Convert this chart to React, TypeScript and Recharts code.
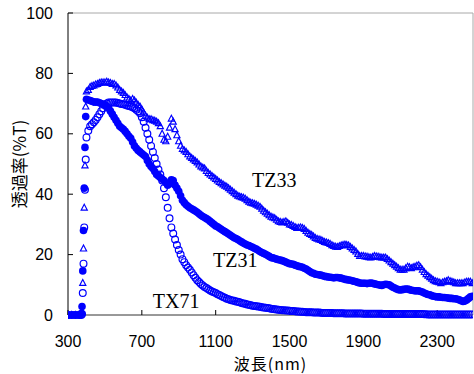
import React from 'react';
import { ScatterChart, Scatter, XAxis, YAxis, ReferenceLine, ReferenceDot } from 'recharts';

// wavelength grid (nm)
const wavelengths = [
  300, 320, 340, 360, 372, 376, 380, 384, 388, 392, 396,
  400, 410, 420, 430, 440, 450, 460, 470, 480, 490,
  500, 510, 520, 530, 540, 550, 560, 570, 580, 590,
  600, 610, 620, 630, 640, 650, 660, 670, 680, 690,
  700, 710, 720, 730, 740, 750, 760, 770, 780, 790,
  800, 810, 820, 830, 840, 850, 860, 870, 880, 890,
  900, 910, 920, 930, 940, 950, 960, 970, 980, 990,
  1000, 1010, 1020, 1030, 1040, 1050, 1060, 1070, 1080, 1090,
  1100, 1110, 1120, 1130, 1140, 1150, 1160, 1170, 1180, 1190,
  1200, 1210, 1220, 1230, 1240, 1250, 1260, 1270, 1280, 1290,
  1300, 1310, 1320, 1330, 1340, 1350, 1360, 1370, 1380, 1390,
  1400, 1410, 1420, 1430, 1440, 1450, 1460, 1470, 1480, 1490,
  1500, 1510, 1520, 1530, 1540, 1550, 1560, 1570, 1580, 1590,
  1600, 1610, 1620, 1630, 1640, 1650, 1660, 1670, 1680, 1690,
  1700, 1710, 1720, 1730, 1740, 1750, 1760, 1770, 1780, 1790,
  1800, 1810, 1820, 1830, 1840, 1850, 1860, 1870, 1880, 1890,
  1900, 1910, 1920, 1930, 1940, 1950, 1960, 1970, 1980, 1990,
  2000, 2010, 2020, 2030, 2040, 2050, 2060, 2070, 2080, 2090,
  2100, 2110, 2120, 2130, 2140, 2150, 2160, 2170, 2180, 2190,
  2200, 2210, 2220, 2230, 2240, 2250, 2260, 2270, 2280, 2290,
  2300, 2310, 2320, 2330, 2340, 2350, 2360, 2370, 2380, 2390,
  2400, 2410, 2420, 2430, 2440, 2450, 2460, 2470, 2480, 2490,
];

// transmittance (%T), TZ33 — open triangles
const tz33 = [
  0, 0, 0, 0, 0.5, 1, 10.6, 22, 35.5, 49.5, 69,
  74, 74.5, 75.5, 75.8, 76, 76.3, 76.5, 76.8, 77, 77,
  77, 77.2, 77, 76.8, 76.5, 76.5, 76, 75.3, 74.5, 74,
  73.5, 72.8, 72, 71.5, 71, 71.5, 71, 70.3, 69.5, 69,
  68, 67, 66, 65.3, 64.8, 64.8, 64.5, 64.3, 64, 63.5,
  62.5, 60, 58, 57.5, 59, 62, 65, 64, 61.5, 59.5,
  57.5, 56, 55, 54.5, 54, 53.2, 52.5, 52, 51.5, 51,
  50.5, 49.8, 49.2, 48.8, 48.5, 47.7, 47, 46.5, 46, 45.5,
  45, 44.5, 44, 43.6, 43.2, 42.8, 42.5, 42, 41.5, 41,
  40.5, 40, 39.5, 39.2, 39, 38.8, 38.5, 38, 37.5, 37.2,
  37, 36.8, 36.5, 36.2, 35.8, 35.2, 34.5, 34, 33.5, 33,
  32.5, 32.3, 32, 31.5, 31, 30.8, 30.6, 30.8, 31, 30.5,
  30, 29.8, 29.5, 29.1, 28.8, 28.9, 29, 28.8, 28.5, 27.8,
  27.2, 26.8, 26.5, 26, 25.5, 25.2, 25, 24.8, 24.5, 24.2,
  24, 23.8, 23.5, 23.1, 22.8, 22.6, 22.5, 22.8, 23, 23.2,
  23.3, 23.2, 23, 22.5, 22, 21.5, 21, 20.2, 19.5, 19.5,
  19.5, 19.4, 19.3, 19.1, 19, 19.2, 19.5, 19.4, 19.3, 19.1,
  19, 19, 19, 18.5, 18, 17.5, 17, 16.5, 16, 15.5,
  15, 15, 15, 15.5, 16, 15.8, 15.5, 15.8, 16, 16.3,
  16.5, 15.8, 15, 14.2, 13.5, 13, 12.5, 12, 11.5, 11.2,
  11, 10.8, 10.5, 10.8, 11, 11.2, 11.5, 11.2, 11, 10.8,
  10.5, 10.5, 10.5, 10.5, 10.5, 10.8, 11, 11, 11, 10.5,
];

// transmittance (%T), TZ31 — filled circles
const tz31 = [
  0, 0, 0, 0, 0.5, 2.8, 14.6, 28, 42, 55.5, 65.7,
  71.4, 71.2, 71, 70.8, 70.5, 70.5, 70.5, 70.3, 70, 69.8,
  69.5, 69, 68.5, 67.5, 66.5, 65.5, 64.5, 63.5, 62.5, 62,
  61.5, 60.8, 60, 59.2, 58.5, 57.3, 56, 55.2, 54.5, 54,
  53.5, 53, 52.5, 51.2, 50, 49.2, 48.5, 47.5, 46.5, 46,
  45.5, 45, 44.5, 43.8, 43, 43.5, 44.8, 44.5, 43, 42,
  41, 39.5, 38, 37.2, 36.5, 36, 35.5, 35.2, 34.8, 34.4,
  34, 33.5, 33, 32.6, 32.3, 31.9, 31.5, 31, 30.5, 30,
  29.5, 29.2, 28.8, 28.4, 28, 27.6, 27.2, 26.8, 26.4, 26,
  25.6, 25.3, 25, 24.6, 24.2, 23.8, 23.5, 23.2, 23, 22.7,
  22.4, 22.1, 21.8, 21.4, 21, 20.7, 20.4, 20.1, 19.8, 19.4,
  19, 18.9, 18.7, 18.5, 18.3, 18.2, 18, 17.8, 17.5, 17.2,
  17, 16.9, 16.8, 16.5, 16.3, 16.1, 16, 15.8, 15.5, 15.2,
  14.8, 14.4, 14, 13.8, 13.5, 13.4, 13.3, 13.2, 13, 12.8,
  12.7, 12.6, 12.5, 12.4, 12.3, 12.4, 12.4, 12.3, 12.2, 12,
  11.8, 11.7, 11.6, 11.5, 11.3, 11.2, 11, 10.8, 10.6, 10.5,
  10.5, 10.5, 10.4, 10.5, 10.6, 10.5, 10.3, 10.2, 10, 9.9,
  9.8, 10, 10.2, 10.1, 10, 9.6, 9.2, 8.9, 8.6, 8.4,
  8.3, 8.4, 8.5, 8.6, 8.6, 8.4, 8.2, 8.1, 8, 8,
  8, 7.8, 7.6, 7.3, 7, 6.8, 6.7, 6.4, 6.2, 6.1,
  6, 6, 5.9, 5.8, 5.8, 5.7, 5.6, 5.5, 5.5, 5.4,
  5.4, 5.2, 5, 4.7, 4.5, 4.6, 5, 5.5, 6, 6.2,
];

// transmittance (%T), TX71 — open circles
const tx71 = [
  0, 0, 0, 0, 0, 0.3, 7.3, 17, 29, 41.5, 51.5,
  58.8, 61, 62.5, 63.2, 63.8, 64.6, 65.5, 66.5, 67.5, 68.5,
  69.5, 70, 70.4, 70.4, 70.4, 70.4, 70.4, 70.2, 70, 69.9,
  69.8, 69.6, 69.4, 69.2, 69, 68.8, 68.5, 68, 67.5, 66.8,
  65.5, 64, 62, 60, 58, 56, 54, 52, 50, 48.2,
  46.5, 44.5, 42, 39, 35.5, 32, 29, 27, 25, 23.2,
  21.5, 20, 18.5, 17.5, 16.5, 15.7, 15, 14.1, 13.2, 12.3,
  11.5, 10.9, 10.3, 9.8, 9.3, 8.9, 8.5, 8.1, 7.8, 7.5,
  7.3, 6.9, 6.6, 6.3, 6, 5.7, 5.4, 5.2, 5, 4.8,
  4.7, 4.5, 4.4, 4.2, 4, 3.8, 3.7, 3.5, 3.4, 3.2,
  3.1, 3, 2.9, 2.8, 2.7, 2.6, 2.5, 2.4, 2.3, 2.2,
  2.1, 2, 1.9, 1.8, 1.7, 1.65, 1.6, 1.55, 1.5, 1.45,
  1.4, 1.35, 1.3, 1.25, 1.2, 1.15, 1.1, 1.05, 1, 0.95,
  0.9, 0.9, 0.9, 0.85, 0.8, 0.8, 0.8, 0.75, 0.7, 0.7,
  0.7, 0.7, 0.7, 0.65, 0.6, 0.6, 0.6, 0.6, 0.6, 0.55,
  0.5, 0.5, 0.5, 0.5, 0.5, 0.5, 0.5, 0.5, 0.5, 0.5,
  0.45, 0.45, 0.4, 0.4, 0.4, 0.4, 0.4, 0.4, 0.4, 0.4,
  0.4, 0.35, 0.35, 0.3, 0.3, 0.3, 0.3, 0.3, 0.3, 0.3,
  0.3, 0.3, 0.3, 0.3, 0.3, 0.3, 0.3, 0.3, 0.3, 0.3,
  0.3, 0.3, 0.3, 0.25, 0.25, 0.2, 0.2, 0.2, 0.2, 0.2,
  0.2, 0.2, 0.2, 0.2, 0.2, 0.2, 0.2, 0.2, 0.2, 0.2,
  0.2, 0.2, 0.2, 0.2, 0.2, 0.2, 0.2, 0.2, 0.2, 0.2,
];

const xTicks = [300, 700, 1100, 1500, 1900, 2300];
const yTicks = [0, 20, 40, 60, 80, 100];
const xDomain = [300, 2494];
const yDomain = [0, 100];

const labelNames = ['TZ33', 'TZ31', 'TX71'];
const labelX = [1297, 1086, 759];
const labelY = [42.4, 15.9, 2.3];

const BLUE = '#0000FF';
const JP_FONT = '"Noto Sans CJK JP", "Noto Sans", sans-serif';
const NUM_FONT = '"Liberation Sans", Arial, sans-serif';
const SERIF_FONT = '"Liberation Serif", "Times New Roman", serif';

const toPoints = (vals: number[]) => wavelengths.map((x, i) => ({ x, y: vals[i] }));

const Triangle = (p: any) => {
  const { cx, cy } = p;
  if (cx == null || cy == null) return null;
  return (
    <path
      d={`M${cx},${cy - 3.5}L${cx + 3.1},${cy + 2.4}L${cx - 3.1},${cy + 2.4}Z`}
      fill="none"
      stroke={BLUE}
      strokeWidth={1.15}
    />
  );
};

const FilledDot = (p: any) => {
  const { cx, cy } = p;
  if (cx == null || cy == null) return null;
  return <circle cx={cx} cy={cy} r={3.8} fill={BLUE} />;
};

const Ring = (p: any) => {
  const { cx, cy } = p;
  if (cx == null || cy == null) return null;
  return <circle cx={cx} cy={cy} r={3.4} fill="none" stroke={BLUE} strokeWidth={1.2} />;
};

const makeLabelShape = (name: string) => (p: any) => {
  const { cx, cy } = p;
  if (cx == null || cy == null) return <g />;
  return (
    <text x={cx} y={cy} fontFamily={SERIF_FONT} fontSize={20} fill="#000">
      {name}
    </text>
  );
};

export default function App() {
  return (
    <div style={{ position: 'absolute', left: 0, top: 0, background: '#fff' }}>
      <ScatterChart width={474} height={374} margin={{ top: 13, right: 1, bottom: 0, left: 0 }}>
        <XAxis
          type="number"
          dataKey="x"
          domain={xDomain}
          allowDataOverflow
          ticks={xTicks}
          interval={0}
          height={59}
          tickSize={-5}
          tickMargin={26}
          axisLine={{ stroke: '#333' }}
          tickLine={{ stroke: '#000' }}
          tick={{ fill: '#000', fontSize: 16, fontFamily: NUM_FONT }}
          label={{
            value: '波長(nm)',
            position: 'insideBottom',
            offset: 4.5,
            fontSize: 16,
            letterSpacing: 1,
            fill: '#000',
            fontFamily: JP_FONT,
          }}
        />
        <YAxis
          type="number"
          dataKey="y"
          domain={yDomain}
          ticks={yTicks}
          interval={0}
          width={68}
          tickSize={-5}
          tickMargin={20}
          axisLine={{ stroke: '#000' }}
          tickLine={{ stroke: '#000' }}
          tick={{ fill: '#000', fontSize: 16, fontFamily: NUM_FONT }}
          label={{
            value: '透過率(%T)',
            angle: -90,
            position: 'insideLeft',
            offset: 20,
            fontSize: 17,
            fill: '#000',
            fontFamily: JP_FONT,
            style: { textAnchor: 'middle' },
          }}
        />
        <ReferenceLine y={100} stroke="#a8a8a8" strokeWidth={1} />
        <ReferenceLine x={2494} stroke="#a8a8a8" strokeWidth={1} />
        <Scatter data={toPoints(tz31)} shape={FilledDot} isAnimationActive={false} />
        <Scatter data={toPoints(tx71)} shape={Ring} isAnimationActive={false} />
        <Scatter data={toPoints(tz33)} shape={Triangle} isAnimationActive={false} />
        {labelNames.map((name, i) => (
          <ReferenceDot
            key={name}
            x={labelX[i]}
            y={labelY[i]}
            r={0}
            shape={makeLabelShape(name)}
          />
        ))}
      </ScatterChart>
    </div>
  );
}
